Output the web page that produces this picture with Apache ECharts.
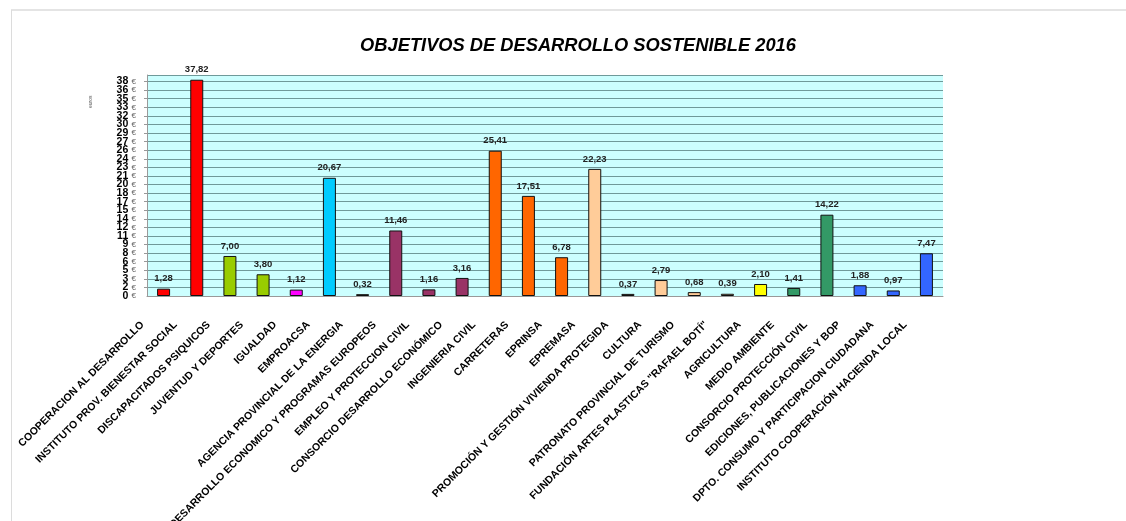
<!DOCTYPE html>
<html>
<head>
<meta charset="utf-8">
<script src="https://cdn.jsdelivr.net/npm/echarts@6/dist/echarts.min.js"></script>
<style>
  html, body { margin: 0; padding: 0; background: #fff; }
  #chart { width: 1126px; height: 521px; }
</style>
</head>
<body>
<div id="chart"></div>
<script>
// datos del grafico
const categorias = [
  "COOPERACION AL DESARROLLO",
  "INSTITUTO PROV. BIENESTAR SOCIAL",
  "DISCAPACITADOS PSIQUICOS",
  "JUVENTUD Y DEPORTES",
  "IGUALDAD",
  "EMPROACSA",
  "AGENCIA PROVINCIAL DE LA ENERGIA",
  "DESARROLLO ECONOMICO Y PROGRAMAS EUROPEOS",
  "EMPLEO Y PROTECCION CIVIL",
  "CONSORCIO DESARROLLO ECONÓMICO",
  "INGENIERIA CIVIL",
  "CARRETERAS",
  "EPRINSA",
  "EPREMASA",
  "PROMOCIÓN Y GESTIÓN VIVIENDA PROTEGIDA",
  "CULTURA",
  "PATRONATO PROVINCIAL DE TURISMO",
  "FUNDACIÓN ARTES PLASTICAS \"RAFAEL BOTÍ\"",
  "AGRICULTURA",
  "MEDIO AMBIENTE",
  "CONSORCIO PROTECCIÓN CIVIL",
  "EDICIONES, PUBLICACIONES Y BOP",
  "DPTO. CONSUMO Y PARTICIPACION CIUDADANA",
  "INSTITUTO COOPERACIÓN HACIENDA LOCAL"
];
const valores = [1.28, 37.82, 7.00, 3.80, 1.12, 20.67, 0.32, 11.46, 1.16, 3.16,
  25.41, 17.51, 6.78, 22.23, 0.37, 2.79, 0.68, 0.39, 2.10, 1.41, 14.22, 1.88, 0.97, 7.47];
// colores de cada barra
const colores = ["#ff0000", "#ff0000", "#99cc00", "#99cc00", "#ff00ff", "#00ccff",
  "#b8a888", "#993366", "#993366", "#993366", "#ff6600", "#ff6600", "#ff6600",
  "#ffcc99", "#b88a66", "#ffcc99", "#ffcc99", "#ffcc99", "#ffff00", "#339966",
  "#339966", "#3366ff", "#3366ff", "#3366ff"];

const mychart = echarts.init(document.getElementById("chart"));

// etiquetas del eje y: numero redondeado + euro
const richEje = {
  n: { fontFamily: "Liberation Sans", fontWeight: "bold", fontSize: 10.5, color: "#000" },
  e: { fontFamily: "Liberation Sans", fontSize: 8, color: "#666" }
};
const etiquetaEuro = (v) => "{n|" + Math.round(v) + "} {e|€}";

const option = {
  animation: false,
  title: {
    text: "OBJETIVOS DE DESARROLLO SOSTENIBLE 2016",
    left: 573,
    textAlign: "center",
    top: 32,
    textStyle: {
      fontFamily: "Liberation Sans",
      fontStyle: "italic",
      fontWeight: "bold",
      fontSize: 18.3,
      color: "#000"
    }
  },
  graphic: [
    // marco de la pagina
    { type: "line", shape: { x1: 11, y1: 10, x2: 1126, y2: 10 }, style: { stroke: "#e4e4e4", lineWidth: 2 } },
    { type: "line", shape: { x1: 11.5, y1: 10, x2: 11.5, y2: 521 }, style: { stroke: "#dcdcdc", lineWidth: 1 } },
    {
      type: "text", x: 88, y: 108, rotation: Math.PI / 2,
      style: { text: "euros", fontSize: 5, fill: "#555", fontFamily: "Liberation Sans" }
    }
  ],
  grid: {
    left: 147,
    right: 183,
    top: 75,
    bottom: 225,
    outerBoundsMode: "none",
    containLabel: false,
    show: true,
    backgroundColor: "#ccffff",
    borderWidth: 0
  },
  xAxis: {
    type: "category",
    data: categorias,
    axisLine: { lineStyle: { color: "#999" } },
    axisTick: { alignWithLabel: false, length: 4, lineStyle: { color: "#bbb" } },
    axisLabel: {
      interval: 0,
      rotate: 45,
      margin: 6,
      padding: [0, 30, 0, 0],
      fontFamily: "Liberation Sans",
      fontWeight: "bold",
      fontSize: 10.5,
      color: "#000"
    }
  },
  yAxis: [
    {
      type: "value",
      min: 0,
      max: 38.65,
      interval: 1.5,
      axisLine: { show: true, lineStyle: { color: "#999" } },
      axisTick: { show: true, length: 3, lineStyle: { color: "#999" } },
      splitLine: { lineStyle: { color: "#6f9a9a", width: 1 } },
      axisLabel: {
        showMaxLabel: false,
        showMinLabel: false,
        margin: 11,
        formatter: etiquetaEuro,
        rich: richEje
      }
    },
    {
      // solo para la etiqueta "0 €"
      type: "value",
      position: "left",
      min: 0,
      max: 38.65,
      interval: 1.5,
      axisLine: { show: false },
      axisTick: { show: false },
      splitLine: { show: false },
      axisLabel: {
        showMaxLabel: false,
        margin: 11,
        formatter: (v) => (v === 0 ? etiquetaEuro(v) : ""),
        rich: richEje
      }
    }
  ],
  series: [
    {
      type: "bar",
      barWidth: 13,
      data: valores.map((v, i) => ({
        value: v,
        itemStyle: { color: colores[i], borderColor: "#111", borderWidth: 1 }
      })),
      label: {
        show: true,
        position: "top",
        distance: 5,
        formatter: (p) => p.value.toFixed(2).replace(".", ","),
        fontFamily: "Liberation Sans",
        fontWeight: "bold",
        fontSize: 9.5,
        color: "#222"
      }
    }
  ]
};

mychart.setOption(option);
</script>
</body>
</html>
